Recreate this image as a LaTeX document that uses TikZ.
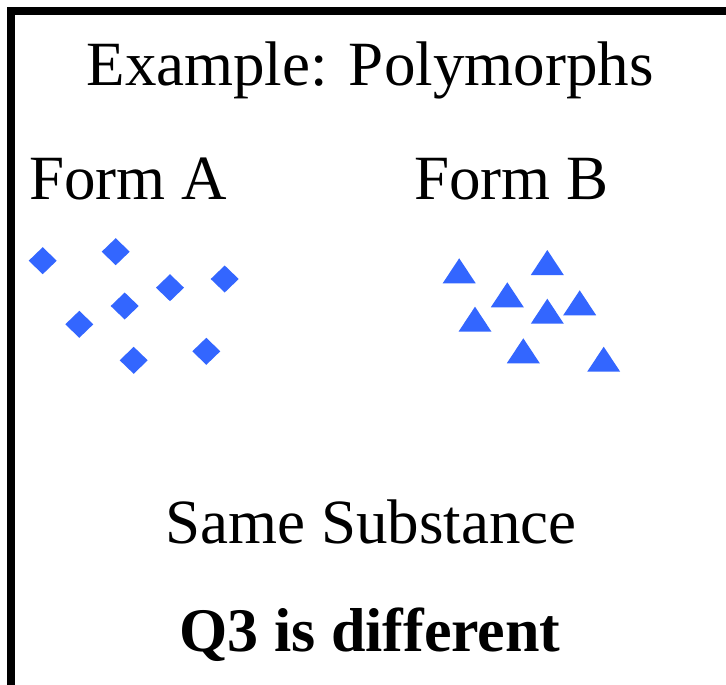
\documentclass[tikz,border=0pt]{standalone}
\usepackage{fontspec}
\setmainfont{Liberation Serif}
\definecolor{crystal}{RGB}{51,102,255}
\begin{document}
\begin{tikzpicture}[x=1pt,y=-1pt,
  label text/.style={inner sep=0pt, anchor=base, font=\fontsize{63}{70}\selectfont},
  molecule/.style={fill=crystal, draw=none}]
\useasboundingbox (0,0) rectangle (726,685);
\fill[white] (0,0) rectangle (726,685);
% open frame: left and top edges only
\draw[line width=8pt, line join=miter] (11,690) -- (11,11) -- (730,11);

% titles
\node[label text] (title) at (370,85) {Example: Polymorphs};
\node[label text, anchor=base west] (formA) at (29,199) {Form A};
\node[label text, anchor=base west] (formB) at (414,199) {Form B};
\node[label text] (same) at (371,543) {Same Substance};
\node[label text, font=\fontsize{62}{70}\selectfont\bfseries] (q3) at (370,651) {Q3 is different};

% form A: diamonds
\foreach \x/\y in {42.7/260.7, 115.7/251.7, 170/287.7, 224.7/279, 124.7/306,
                   79.3/324.3, 133.7/360.3, 206.3/351.3}
  \fill[molecule] (\x-14,\y) -- (\x,\y-13.5) -- (\x+14,\y) -- (\x,\y+13.5) -- cycle;

% form B: triangles (apex x / apex y)
\foreach \x/\y in {459.2/258.3, 547.3/250, 507.3/282.3, 475/306.7, 547.3/298.7,
                   579.7/290.3, 523.3/338.3, 603.7/346.7}
  \fill[molecule] (\x,\y) -- (\x+16.5,\y+25) -- (\x-16.5,\y+25) -- cycle;
\end{tikzpicture}
\end{document}
